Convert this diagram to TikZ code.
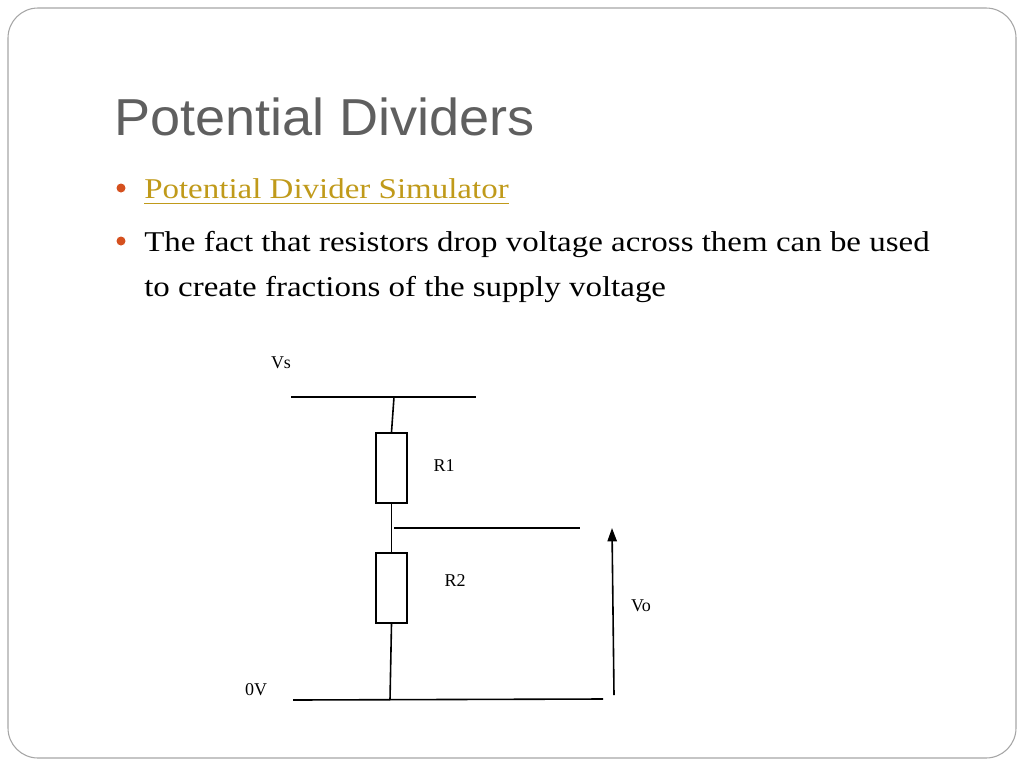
\documentclass[tikz,border=0pt]{standalone}
\usepackage{fontspec}
\setmainfont{Liberation Serif}
\newfontfamily\bodyfont[FakeStretch=1.15]{Liberation Serif}
\newfontfamily\titlefont[FakeStretch=1.04]{Liberation Sans}
\usetikzlibrary{arrows.meta}
\definecolor{titlegray}{HTML}{5F5F5F}
\definecolor{linkc}{HTML}{C09A1A}
\definecolor{bul}{HTML}{D5501E}
\begin{document}
\begin{tikzpicture}[x=0.75pt,y=-0.75pt,
  wire/.style={line width=1.2pt,black},
  res/.style={draw,line width=1.2pt,minimum width=31*0.75pt,minimum height=70*0.75pt,inner sep=0pt},
  lbl/.style={font=\fontsize{13.5}{16}\selectfont,inner sep=0pt},
  body/.style={font=\bodyfont\fontsize{21.5}{33}\selectfont,anchor=west,inner sep=0pt,align=left}]
\useasboundingbox (0,0) rectangle (1024,768);
\draw[gray!70,line width=0.8pt,rounded corners=30*0.75pt] (8,8) rectangle (1016,758);
\node[anchor=base west,inner sep=0pt,text=titlegray,font=\titlefont\fontsize{39}{44}\selectfont] (title) at (114,135) {Potential Dividers};
\fill[bul] (121,188) circle (4.5) (121,241) circle (4.5);
\node[body,anchor=base west,text=linkc] (link) at (144,198) {Potential Divider Simulator};
\draw[linkc,line width=0.8pt] ([yshift=-4pt]link.base west) -- ([yshift=-4pt]link.base east);
\node[body,anchor=base west] (t1) at (144,251) {The fact that resistors drop voltage across them can be used};
\node[body,anchor=base west] (t2) at (144,296) {to create fractions of the supply voltage};
% circuit
\coordinate (ta) at (291,397); \coordinate (tb) at (476,397);
\draw[wire] (ta) -- (tb);
\node[res] (r1) at (391.5,468) {};
\node[res] (r2) at (391.5,588) {};
\coordinate (tp) at (394,397);
\draw[wire] (tp) -- (r1.north);
\draw[wire] (r1.south) -- (r2.north);
\coordinate (m1) at (394,528); \coordinate (m2) at (580,528);
\draw[wire] (m1) -- (m2);
\coordinate (ba) at (293,700); \coordinate (bb) at (603,699);
\draw[wire] (ba) -- (bb);
\coordinate (bp) at (390,700);
\draw[wire] (r2.south) -- (bp);
\coordinate (a1) at (614,695); \coordinate (a2) at (612,528);
\draw[wire,-{Triangle[length=10pt,width=7pt]}] (a1) -- (a2);
\node[lbl] (vs) at (281,363) {Vs};
\node[lbl] (l1) at (444,466) {R1};
\node[lbl] (l2) at (455,581) {R2};
\node[lbl] (vo) at (641,606) {Vo};
\node[lbl] (zv) at (256,690) {0V};
\end{tikzpicture}
\end{document}
